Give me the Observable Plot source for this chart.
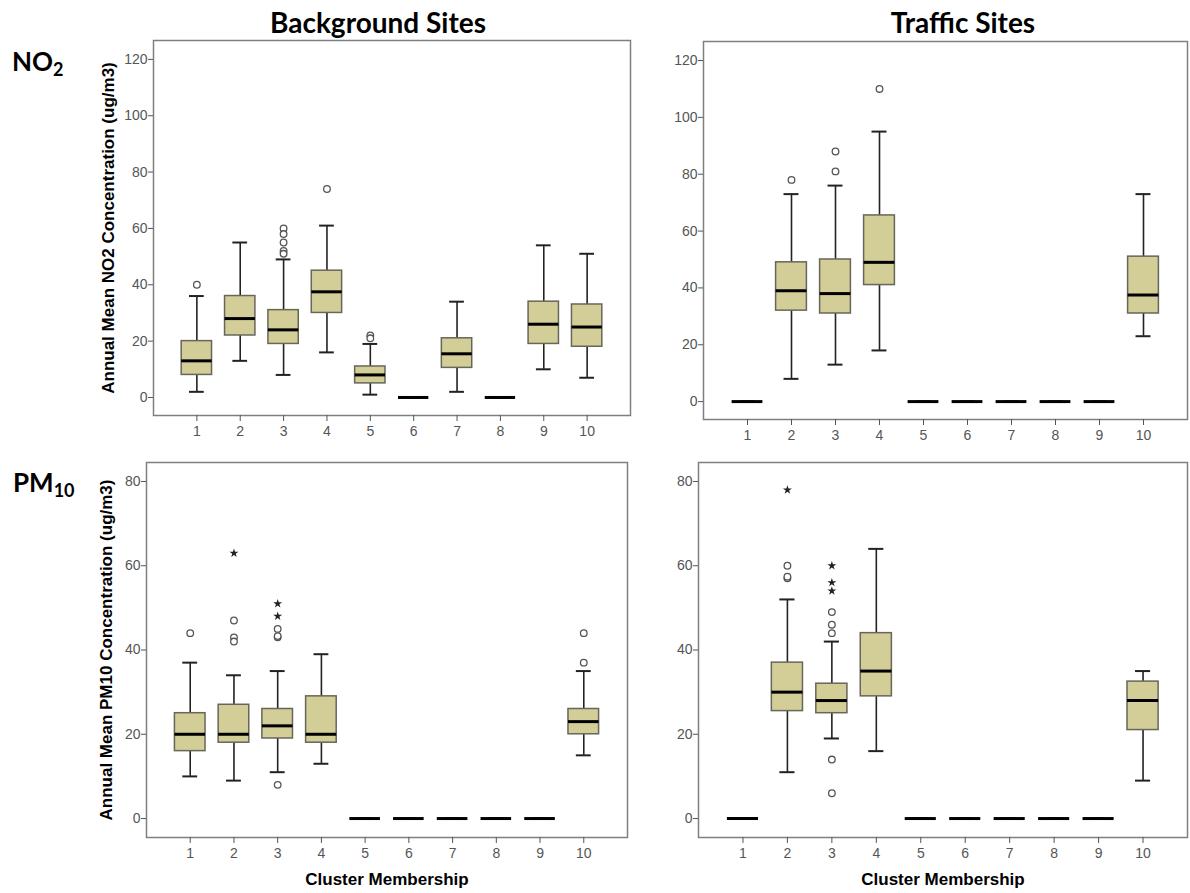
<!DOCTYPE html>
<html>
<head>
<meta charset="utf-8">
<script src="https://cdn.jsdelivr.net/npm/d3@7"></script>
<script src="https://cdn.jsdelivr.net/npm/@observablehq/plot@0.6"></script>
<style>
  html, body { margin: 0; padding: 0; background: #ffffff; }
  #wrap { position: relative; width: 1190px; height: 893px; overflow: hidden; background: #ffffff; }
  .panel { position: absolute; }
  .title { position: absolute; width: 400px; text-align: center; font: bold 28px Lato, "Open Sans", sans-serif; line-height: 28px; color: #000; white-space: nowrap; }
  .rowlab { position: absolute; font: bold 26px Lato, "Open Sans", sans-serif; line-height: 26px; color: #000; white-space: nowrap; }
  .rowlab .sub { font-size: 18px; position: relative; top: 5px; }
</style>
</head>
<body>
<div id="wrap">
  <div class="title" style="left:178px; top:8px;">Background Sites</div>
  <div class="title" style="left:763px; top:8px;">Traffic Sites</div>
  <div class="rowlab" style="left:12px; top:48px;">NO<span class="sub">2</span></div>
  <div class="rowlab" style="left:13px; top:469px;">PM<span class="sub">10</span></div>
</div>
<script>
// ---------- data ----------
const clusters = [1, 2, 3, 4, 5, 6, 7, 8, 9, 10];
const no2Ticks = [0, 20, 40, 60, 80, 100, 120];
const pm10Ticks = [0, 20, 40, 60, 80];

// Background sites, NO2
const bgNO2Low  = [2, 13, 8, 16, 1, 0, 2, 0, 10, 7];
const bgNO2Q1   = [8, 22, 19, 30, 5, 0, 10.5, 0, 19, 18];
const bgNO2Med  = [13, 28, 24, 37.5, 8, 0, 15.5, 0, 26, 25];
const bgNO2Q3   = [20, 36, 31, 45, 11, 0, 21, 0, 34, 33];
const bgNO2High = [36, 55, 49, 61, 19, 0, 34, 0, 54, 51];
const bgNO2OutC = [1, 3, 3, 3, 3, 3, 4, 5, 5];
const bgNO2OutV = [40, 60, 58, 55, 52, 51, 74, 22, 21];
const bgNO2ExtC = [];
const bgNO2ExtV = [];

// Traffic sites, NO2
const trNO2Low  = [0, 8, 13, 18, 0, 0, 0, 0, 0, 23];
const trNO2Q1   = [0, 32, 31, 41, 0, 0, 0, 0, 0, 31];
const trNO2Med  = [0, 39, 38, 49, 0, 0, 0, 0, 0, 37.5];
const trNO2Q3   = [0, 49, 50, 65.5, 0, 0, 0, 0, 0, 51];
const trNO2High = [0, 73, 76, 95, 0, 0, 0, 0, 0, 73];
const trNO2OutC = [2, 3, 3, 4];
const trNO2OutV = [78, 88, 81, 110];
const trNO2ExtC = [];
const trNO2ExtV = [];

// Background sites, PM10
const bgPMLow  = [10, 9, 11, 13, 0, 0, 0, 0, 0, 15];
const bgPMQ1   = [16, 18, 19, 18, 0, 0, 0, 0, 0, 20];
const bgPMMed  = [20, 20, 22, 20, 0, 0, 0, 0, 0, 23];
const bgPMQ3   = [25, 27, 26, 29, 0, 0, 0, 0, 0, 26];
const bgPMHigh = [37, 34, 35, 39, 0, 0, 0, 0, 0, 35];
const bgPMOutC = [1, 2, 2, 2, 3, 3, 3, 3, 10, 10];
const bgPMOutV = [44, 47, 43, 42, 45, 43, 43.3, 8, 44, 37];
const bgPMExtC = [2, 3, 3];
const bgPMExtV = [63, 51, 48];

// Traffic sites, PM10
const trPMLow  = [0, 11, 19, 16, 0, 0, 0, 0, 0, 9];
const trPMQ1   = [0, 25.5, 25, 29, 0, 0, 0, 0, 0, 21];
const trPMMed  = [0, 30, 28, 35, 0, 0, 0, 0, 0, 28];
const trPMQ3   = [0, 37, 32, 44, 0, 0, 0, 0, 0, 32.5];
const trPMHigh = [0, 52, 42, 64, 0, 0, 0, 0, 0, 35];
const trPMOutC = [2, 2, 2, 3, 3, 3, 3, 3];
const trPMOutV = [60, 57, 57.4, 49, 46, 44, 14, 6];
const trPMExtC = [2, 3, 3, 3];
const trPMExtV = [78, 60, 56, 54];

// ---------- drawing ----------
const BOX_FILL = "#d3ce97";
const BOX_STROKE = "#67665a";
const HALF_BOX = 0.35;
const HALF_CAP = 0.17;
const FONT = "'Liberation Sans', Arial, sans-serif";

function panel(o) {
  const rows = clusters.map((c, i) => ({c, lo: o.lo[i], q1: o.q1[i], med: o.med[i], q3: o.q3[i], hi: o.hi[i]}));
  const outs = o.outC.map((c, i) => ({c, v: o.outV[i]}));
  const exts = o.extC.map((c, i) => ({c, v: o.extV[i]}));
  const yMid = (o.yDomain[0] + o.yDomain[1]) / 2;
  const marks = [
    Plot.frame({stroke: "#7f7f7f", strokeWidth: 1.5}),
    Plot.axisX({ticks: clusters, tickSize: 6, tickPadding: 5, tickFormat: d => String(d), label: null,
                stroke: "#555", fill: "#555", fontSize: 14}),
    Plot.axisY({ticks: o.yTicks, tickSize: 5, tickPadding: 1, tickFormat: d => String(d), label: null,
                stroke: "#555", fill: "#555", fontSize: 14}),
    // whiskers
    Plot.ruleX(rows, {x: "c", y1: "lo", y2: "q1", stroke: "#222", strokeWidth: 1.6}),
    Plot.ruleX(rows, {x: "c", y1: "q3", y2: "hi", stroke: "#222", strokeWidth: 1.6}),
    // caps
    Plot.ruleY(rows, {y: "lo", x1: d => d.c - HALF_CAP, x2: d => d.c + HALF_CAP, stroke: "#222", strokeWidth: 2}),
    Plot.ruleY(rows, {y: "hi", x1: d => d.c - HALF_CAP, x2: d => d.c + HALF_CAP, stroke: "#222", strokeWidth: 2}),
    // boxes
    Plot.rect(rows, {x1: d => d.c - HALF_BOX, x2: d => d.c + HALF_BOX, y1: "q1", y2: "q3",
                     fill: BOX_FILL, stroke: BOX_STROKE, strokeWidth: 1.5}),
    // medians
    Plot.ruleY(rows, {y: "med", x1: d => d.c - HALF_BOX, x2: d => d.c + HALF_BOX, stroke: "#000", strokeWidth: 3}),
    // outliers
    Plot.dot(outs, {x: "c", y: "v", r: 3.3, stroke: "#555", strokeWidth: 1.3, fill: "white"}),
    Plot.dot(exts, {x: "c", y: "v", r: 2.8, symbol: "star", fill: "#222", stroke: "none"})
  ];
  if (o.yLabel) {
    marks.push(Plot.text([o.yLabel], {text: d => d, y: () => yMid, frameAnchor: "left", dx: o.yLabelDx,
      rotate: -90, textAnchor: "middle", lineAnchor: "middle",
      fontWeight: "bold", fontSize: 17, fill: "#000", fontFamily: FONT}));
  }
  if (o.xLabel) {
    marks.push(Plot.text([o.xLabel], {text: d => d, x: () => 5.5, frameAnchor: "bottom", dy: 42, lineAnchor: "middle",
      fontWeight: "bold", fontSize: 17, fill: "#000", fontFamily: FONT}));
  }
  const svg = Plot.plot({
    width: o.width, height: o.height,
    marginLeft: o.ml, marginRight: o.mr, marginTop: o.mt, marginBottom: o.mb,
    x: {type: "linear", domain: [0, 11], axis: null},
    y: {type: "linear", domain: o.yDomain, axis: null},
    style: {background: "transparent", fontFamily: FONT, fontSize: "14px", overflow: "visible"},
    marks
  });
  const div = document.createElement("div");
  div.className = "panel";
  div.style.left = o.left + "px";
  div.style.top = o.top + "px";
  div.appendChild(svg);
  document.getElementById("wrap").appendChild(div);
}

panel({left: 0, top: 0, width: 640, height: 450, ml: 153, mr: 10, mt: 40, mb: 35,
  yDomain: [-6.4, 126.7], yTicks: no2Ticks,
  lo: bgNO2Low, q1: bgNO2Q1, med: bgNO2Med, q3: bgNO2Q3, hi: bgNO2High,
  outC: bgNO2OutC, outV: bgNO2OutV, extC: bgNO2ExtC, extV: bgNO2ExtV,
  yLabel: "Annual Mean NO2 Concentration (ug/m3)", yLabelDx: -45});

panel({left: 640, top: 0, width: 550, height: 450, ml: 63, mr: 3, mt: 41, mb: 31,
  yDomain: [-6.3, 126.7], yTicks: no2Ticks,
  lo: trNO2Low, q1: trNO2Q1, med: trNO2Med, q3: trNO2Q3, hi: trNO2High,
  outC: trNO2OutC, outV: trNO2OutV, extC: trNO2ExtC, extV: trNO2ExtV});

panel({left: 0, top: 440, width: 640, height: 453, ml: 146, mr: 13, mt: 22, mb: 56,
  yDomain: [-4.5, 84.5], yTicks: pm10Ticks,
  lo: bgPMLow, q1: bgPMQ1, med: bgPMMed, q3: bgPMQ3, hi: bgPMHigh,
  outC: bgPMOutC, outV: bgPMOutV, extC: bgPMExtC, extV: bgPMExtV,
  yLabel: "Annual Mean PM10 Concentration (ug/m3)", yLabelDx: -40,
  xLabel: "Cluster Membership"});

panel({left: 640, top: 440, width: 550, height: 453, ml: 58, mr: 3, mt: 22, mb: 56,
  yDomain: [-4.5, 84.5], yTicks: pm10Ticks,
  lo: trPMLow, q1: trPMQ1, med: trPMMed, q3: trPMQ3, hi: trPMHigh,
  outC: trPMOutC, outV: trPMOutV, extC: trPMExtC, extV: trPMExtV,
  xLabel: "Cluster Membership"});
</script>
</body>
</html>
